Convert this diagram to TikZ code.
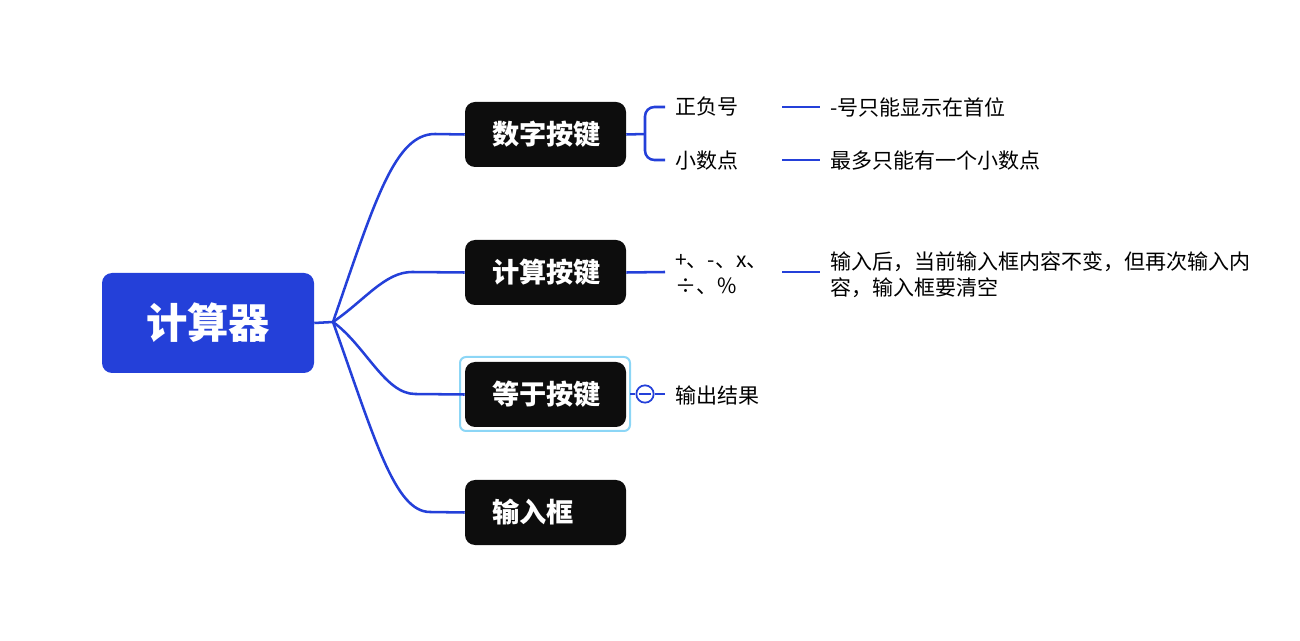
\documentclass[tikz,border=0pt]{standalone}
\usepackage{fontspec}
\newfontfamily\cjk{Noto Sans CJK SC}
\definecolor{mapblue}{RGB}{36,64,217}
\definecolor{keyblack}{RGB}{13,13,13}
\definecolor{selcyan}{RGB}{140,214,246}
\begin{document}
\begin{tikzpicture}[
        x=0.75pt, y=-0.75pt,
        every node/.style={font=\cjk},
        rootbox/.style={fill=mapblue, rounded corners=7.5pt, minimum width=159pt,
            minimum height=75pt, text=white, font=\cjk\bfseries\fontsize{31}{34}\selectfont},
        keybox/.style={fill=keyblack, rounded corners=7.5pt, minimum height=48.75pt,
            text width=80.25pt, inner xsep=20.25pt, align=left, text=white,
            font=\cjk\bfseries\fontsize{20.4}{24}\selectfont},
        leaf/.style={anchor=west, inner sep=0pt, align=left,
            font=\cjk\fontsize{15.75}{19.5}\selectfont},
        branch/.style={draw=mapblue, line width=1.9pt},
        selbox/.style={draw=selcyan, line width=1.5pt, rounded corners=4.5pt}
    ]

    \useasboundingbox (0,0) rectangle (1300,641);

    % Root and hub
    \node[rootbox] (root) at (208,323) {计算器};
    \coordinate (hub) at (333,322);

    % Main keys
    \node[keybox] (digit) at (545.5,134.5) {数字按键};
    \node[keybox] (calc) at (545.5,272.5) {计算按键};
    \node[keybox] (equal) at (545.5,394.5) {等于按键};
    \node[keybox] (input) at (545.5,512.5) {输入框};

    % Selection frame round the equal key
    \draw[selbox] (460,357) rectangle (630,431);

    % Branches from the root
    \draw[branch] (root.east) -- (hub);
    \draw[branch] (hub) .. controls (375,200) and (395,134) .. (435,134) -- (digit.west);
    \draw[branch] (hub) .. controls (365,300) and (385,272) .. (412,272) -- (calc.west);
    \draw[branch] (hub) .. controls (365,345) and (385,394) .. (415,394) -- (equal.west);
    \draw[branch] (hub) .. controls (375,440) and (395,512) .. (430,512) -- (input.west);

    % Digit key: sign and decimal point
    \node[leaf] (sign) at (675,107) {正负号};
    \node[leaf] (point) at (675,161) {小数点};
    \node[leaf] (signnote) at (830,107) {-号只能显示在首位};
    \node[leaf] (pointnote) at (830,161) {最多只能有一个小数点};
    \coordinate (fork) at (645,134);
    \draw[branch] (digit.east) -- (fork);
    \draw[branch, rounded corners=7pt] (665,107) -- (645,107) -- (645,160) -- (665,160);
    \draw[branch] (782,107) -- (820,107);
    \draw[branch] (782,160) -- (820,160);

    % Calc key: operators
    \node[leaf] (ops) at (675,275) {+、-、x、\\÷、\%};
    \node[leaf] (opsnote) at (830,274.5) {输入后，当前输入框内容不变，但再次输入内\\容，输入框要清空};
    \draw[branch] (calc.east) -- (665,272);
    \draw[branch] (782,272) -- (820,272);

    % Equal key: collapsed result
    \node[leaf] (result) at (675,395) {输出结果};
    \node[circle, draw=mapblue, line width=1.3pt, fill=white, minimum size=13pt, inner sep=0pt] (fold) at (645,394) {};
    \draw[branch] (630,394) -- (fold.west);
    \draw[branch] (fold.east) -- (665,394);
    \draw[mapblue, line width=1.3pt] ([xshift=-4.5pt]fold.center) -- ([xshift=4.5pt]fold.center);

\end{tikzpicture}
\end{document}
